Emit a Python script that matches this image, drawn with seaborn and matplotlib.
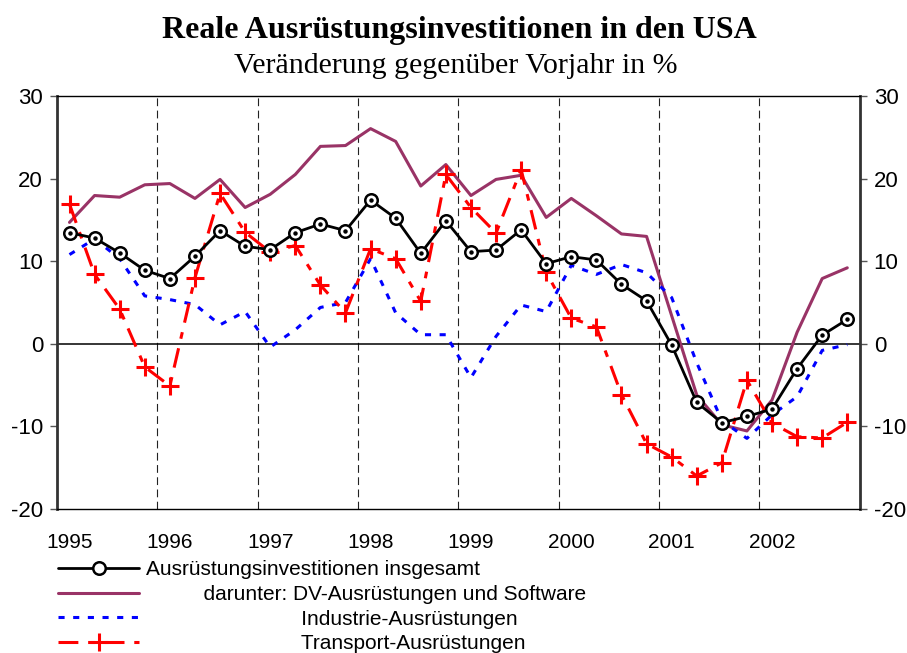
import numpy as np
import pandas as pd
import matplotlib
matplotlib.use('Agg')
import matplotlib.pyplot as plt
import seaborn as sns

# Quartale 1995 Q1 bis 2002 Q4
jahre = ['1995', '1996', '1997', '1998', '1999', '2000', '2001', '2002']
quartale = [f'{j}Q{q}' for j in jahre for q in range(1, 5)]

insgesamt = [13.45, 12.8, 11.0, 8.9, 7.9, 10.6, 13.7, 11.8, 11.4, 13.45, 14.5, 13.7,
             17.4, 15.2, 10.95, 14.9, 11.15, 11.35, 13.8, 9.7, 10.55, 10.15, 7.2, 5.2,
             -0.15, -7.1, -9.55, -8.8, -7.9, -3.0, 1.05, 2.95]
dv_software = [14.7, 17.95, 17.75, 19.25, 19.4, 17.6, 19.9, 16.5, 18.1, 20.5, 23.9, 24.0,
               26.05, 24.5, 19.1, 21.7, 17.95, 19.9, 20.4, 15.3, 17.6, 15.5, 13.3, 13.0,
               3.4, -6.2, -9.8, -10.55, -6.8, 1.4, 7.9, 9.2]
industrie = [10.8, 12.7, 10.3, 5.8, 5.35, 4.75, 2.3, 3.9, -0.4, 1.7, 4.4, 5.0,
             10.3, 3.75, 1.1, 1.1, -4.1, 0.9, 4.7, 3.9, 9.5, 8.4, 9.6, 8.6,
             5.6, -2.3, -9.3, -11.45, -8.6, -6.4, -0.8, -0.1]
transport = [16.9, 8.4, 4.2, -2.8, -5.1, 8.0, 18.2, 13.5, 11.1, 11.9, 7.1, 3.75,
             11.5, 10.3, 5.15, 20.5, 16.5, 13.4, 21.1, 8.65, 3.1, 2.05, -6.15, -12.1,
             -13.7, -16.0, -14.4, -4.4, -9.6, -11.25, -11.4, -9.5]

labels = ['Ausrüstungsinvestitionen insgesamt',
          ' ' * 10 + 'darunter: DV-Ausrüstungen und Software',
          ' ' * 27 + 'Industrie-Ausrüstungen',
          ' ' * 27 + 'Transport-Ausrüstungen']

df = pd.DataFrame({'pos': np.arange(len(quartale)), 'quartal': quartale,
                   'insgesamt': insgesamt, 'dv': dv_software,
                   'industrie': industrie, 'transport': transport})

sns.set_style('white')
plt.rcParams['font.family'] = ['Liberation Sans', 'DejaVu Sans']
plt.rcParams['axes.unicode_minus'] = False
plt.rcParams['text.color'] = 'black'
plt.rcParams['xtick.color'] = 'black'
plt.rcParams['ytick.color'] = 'black'

fig = plt.figure(figsize=(9.07, 6.53), dpi=100)
ax = fig.add_axes([0.0628, 0.2205, 0.8852, 0.6325])

# Jahresgrenzen und Nulllinie
for g in np.arange(3.5, len(quartale) - 1, 4):
    ax.axvline(g, color='#222222', lw=0.8, dashes=(7, 4), zorder=1)
ax.axhline(0, color='black', lw=1.1, zorder=1)

sns.lineplot(data=df, x='pos', y='dv', ax=ax, color='#993366', lw=2.2,
             label=labels[1], zorder=3)
sns.lineplot(data=df, x='pos', y='industrie', ax=ax, color='#0000FF', lw=2.2,
             dashes=(2.0, 2.8), label=labels[2], zorder=3)
sns.lineplot(data=df, x='pos', y='transport', ax=ax, color='#FF0000', lw=2.2,
             dashes=(6.5, 3.2, 2.2, 3.2), marker='+', markersize=13, mew=2.2,
             mec='#FF0000', label=labels[3], zorder=4)
sns.lineplot(data=df, x='pos', y='insgesamt', ax=ax, color='black', lw=2.0,
             marker='o', markersize=9, mfc='white', mec='black', mew=1.8,
             label=labels[0], zorder=5)
# Punkt in der Mitte der Kreise
ax.plot(df['pos'], df['insgesamt'], ls='none', marker='o', ms=2.2, color='black', zorder=6)

ax.set_xlim(-0.5, len(quartale) - 0.5)
ax.set_ylim(-20, 30)
ax.set_yticks([-20, -10, 0, 10, 20, 30])
ax.set_xticks(np.arange(0, len(quartale), 4))
ax.set_xticklabels(jahre)
ax.set_xlabel('')
ax.set_ylabel('')
ax.tick_params(axis='x', length=0, pad=17, labelsize=15)
ax.tick_params(axis='y', which='both', direction='out', length=5, width=1, color='#555555',
               labelsize=16, pad=5, left=True, right=True, labelleft=True, labelright=True)

for side in ['left', 'right']:
    ax.spines[side].set_linewidth(2.0)
    ax.spines[side].set_color('#333333')
for side in ['top', 'bottom']:
    ax.spines[side].set_linewidth(1.0)
    ax.spines[side].set_color('black')

# Legende unten links
handles, labs = ax.get_legend_handles_labels()
order = [3, 0, 1, 2]
ax.legend([handles[i] for i in order], [labs[i] for i in order],
          loc='upper left', bbox_to_anchor=(0.064, 0.142), bbox_transform=fig.transFigure,
          frameon=False, fontsize=15, handlelength=3.9, handletextpad=0.3,
          labelspacing=0.27, borderpad=0, borderaxespad=0)

fig.text(0.506, 0.9413, 'Reale Ausrüstungsinvestitionen in den USA', ha='center', va='baseline',
         fontsize=23, fontweight='bold', family=['Liberation Serif', 'DejaVu Serif'])
fig.text(0.503, 0.8887, 'Veränderung gegenüber Vorjahr in %', ha='center', va='baseline',
         fontsize=21.5, family=['Liberation Serif', 'DejaVu Serif'])

fig.savefig('out.png', dpi=100)
